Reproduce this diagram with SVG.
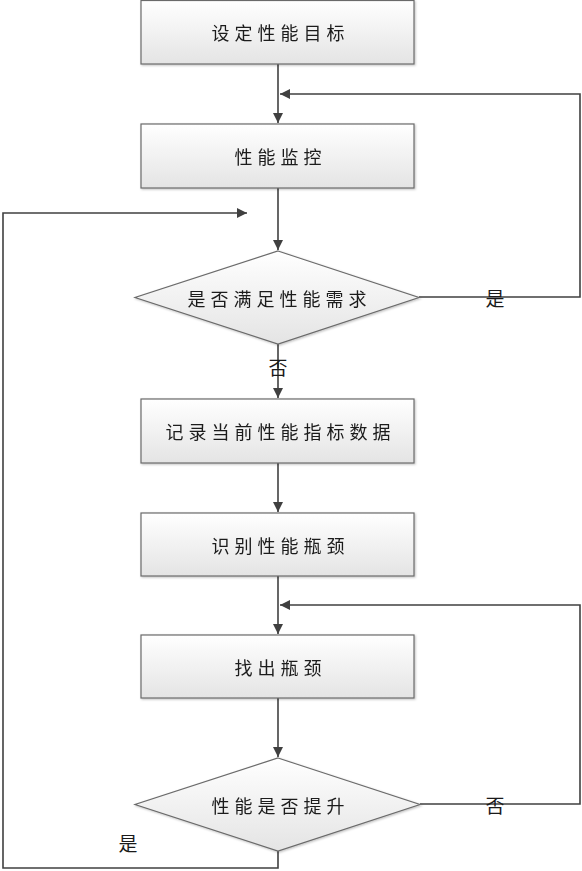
<svg xmlns="http://www.w3.org/2000/svg" width="582" height="871" viewBox="0 0 582 871">
<style>
.box{fill:url(#g);stroke:#6b6b6b;stroke-width:1.2}
.t{font-family:"Noto Sans CJK SC","Noto Sans",sans-serif;font-size:18px;fill:#1a1a1a;text-anchor:middle;dominant-baseline:central;letter-spacing:5px}
.lbl{font-family:"Noto Sans CJK SC","Noto Sans",sans-serif;font-size:19px;fill:#1a1a1a;text-anchor:middle;dominant-baseline:central}
.c{fill:none;stroke:#404040;stroke-width:1.6}
</style>
<defs>
<linearGradient id="g" x1="0" y1="0" x2="0" y2="1">
<stop offset="0" stop-color="#ffffff"/>
<stop offset="1" stop-color="#e4e4e4"/>
</linearGradient>
<marker id="a" viewBox="0 0 10 10" refX="10" refY="5" markerWidth="10" markerHeight="10" markerUnits="userSpaceOnUse" orient="auto">
<path d="M0,0 L10,5 L0,10 z" fill="#404040"/>
</marker>
<filter id="sh" x="-5%" y="-5%" width="110%" height="115%">
<feDropShadow dx="1" dy="1" stdDeviation="0.8" flood-color="#000" flood-opacity="0.25"/>
</filter>
</defs>
<g id="connectors">
<path class="c" d="M278,64 V123" marker-end="url(#a)"/>
<path class="c" d="M419,297 H580 V94 H280" marker-end="url(#a)"/>
<path class="c" d="M278,188 V250" marker-end="url(#a)"/>
<path class="c" d="M278,851 V868 H3 V213 H247" marker-end="url(#a)"/>
<path class="c" d="M278,344 V398" marker-end="url(#a)"/>
<path class="c" d="M278,463 V512" marker-end="url(#a)"/>
<path class="c" d="M278,576 V634" marker-end="url(#a)"/>
<path class="c" d="M420,804 H580 V605 H280" marker-end="url(#a)"/>
<path class="c" d="M278,698 V757" marker-end="url(#a)"/>
</g>
<g id="n1" filter="url(#sh)"><rect class="box" x="141" y="0.5" width="273" height="63.5"/><text class="t" x="280.5" y="32">设定性能目标</text></g>
<g id="n2" filter="url(#sh)"><rect class="box" x="141" y="124" width="273" height="64"/><text class="t" x="280.5" y="156">性能监控</text></g>
<g id="n3" filter="url(#sh)"><polygon class="box" points="278,251 419,297.5 278,344 135,297.5"/><text class="t" x="279.5" y="297.5">是否满足性能需求</text></g>
<g id="n4" filter="url(#sh)"><rect class="box" x="141" y="399" width="273" height="64"/><text class="t" x="280.5" y="431">记录当前性能指标数据</text></g>
<g id="n5" filter="url(#sh)"><rect class="box" x="141" y="513" width="273" height="63"/><text class="t" x="280.5" y="545">识别性能瓶颈</text></g>
<g id="n6" filter="url(#sh)"><rect class="box" x="141" y="635" width="273" height="63"/><text class="t" x="280.5" y="667">找出瓶颈</text></g>
<g id="n7" filter="url(#sh)"><polygon class="box" points="278,758 420,804.5 278,851 135,804.5"/><text class="t" x="280.5" y="804.5">性能是否提升</text></g>
<g id="labels">
<text class="lbl" x="495" y="297">是</text>
<text class="lbl" x="278" y="366">否</text>
<text class="lbl" x="495" y="804">否</text>
<text class="lbl" x="128" y="842">是</text>
</g>
</svg>
